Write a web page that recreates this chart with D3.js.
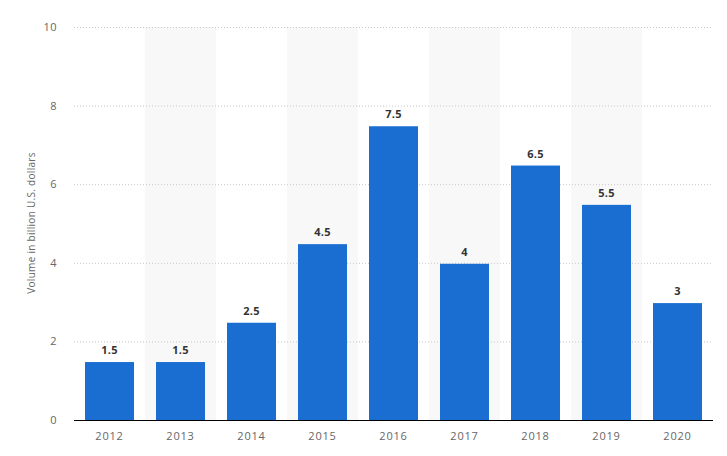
<!DOCTYPE html>
<html><head><meta charset="utf-8">
<script src="https://cdn.jsdelivr.net/npm/d3@7"></script>
<style>body{margin:0;background:#fff;}svg{display:block;font-family:"Open Sans","DejaVu Sans",sans-serif;}</style>
</head><body>
<svg id="c" width="727" height="456"></svg>
<script>
const years = ["2012","2013","2014","2015","2016","2017","2018","2019","2020"];
const values = [1.5,1.5,2.5,4.5,7.5,4,6.5,5.5,3];
const valueLabels = ["1.5","1.5","2.5","4.5","7.5","4","6.5","5.5","3"];
const yTicks = [0,2,4,6,8,10];

const svg = d3.select("#c");
const mLeft = 74, mRight = 713, mTop = 27, mBottom = 420;
const x = d3.scaleBand().domain(years).range([mLeft, mRight]).paddingInner(0).paddingOuter(0);
const y = d3.scaleLinear().domain([0,10]).range([mBottom, mTop]);

// alternating shaded bands
svg.append("g").selectAll("rect").data(years.filter((d,i)=>i%2===1)).join("rect")
  .attr("x", d=>x(d)).attr("y", mTop).attr("width", x.bandwidth()).attr("height", mBottom-mTop)
  .attr("fill", "#f8f8f8");

// gridlines
svg.append("g").selectAll("line").data(yTicks.filter(t=>t>0)).join("line")
  .attr("x1", mLeft).attr("x2", mRight).attr("y1", d=>y(d)+0.5).attr("y2", d=>y(d)+0.5)
  .attr("stroke", "#c8c8c8").attr("stroke-dasharray", "1,2");

// y tick labels
svg.append("g").selectAll("text").data(yTicks).join("text")
  .attr("x", 57).attr("y", d=>y(d)+4).attr("text-anchor","end")
  .attr("font-size", 11).attr("fill", "#666").attr("letter-spacing", 0.5).text(d=>d);

// bars
const bw = 49;
svg.append("g").selectAll("rect").data(values).join("rect")
  .attr("x", (d,i)=>x(years[i]) + (x.bandwidth()-bw)/2)
  .attr("y", d=>y(d)+1).attr("width", bw).attr("height", d=>mBottom-y(d)-1)
  .attr("fill", "#1a6dd1");

// value labels
svg.append("g").selectAll("text").data(values).join("text")
  .attr("x", (d,i)=>x(years[i]) + x.bandwidth()/2)
  .attr("y", d=>y(d)-7).attr("text-anchor","middle")
  .attr("font-size", 11).attr("font-weight","bold").attr("fill","#333").attr("letter-spacing", 0.3)
  .text((d,i)=>valueLabels[i]);

// x axis line
svg.append("line").attr("x1", mLeft).attr("x2", mRight).attr("y1", mBottom+0.5).attr("y2", mBottom+0.5)
  .attr("stroke", "#000").attr("stroke-width", 1);

// x tick labels
svg.append("g").selectAll("text").data(years).join("text")
  .attr("x", d=>x(d)+x.bandwidth()/2).attr("y", 440).attr("text-anchor","middle")
  .attr("font-size", 11).attr("fill","#666").attr("letter-spacing", 0.8).text(d=>d);

// y axis title
svg.append("text").attr("transform", "translate(35,223) rotate(-90)")
  .attr("text-anchor","middle").attr("font-size", 10).attr("fill","#666").attr("letter-spacing", 0.3)
  .text("Volume in billion U.S. dollars");
</script>
</body></html>
